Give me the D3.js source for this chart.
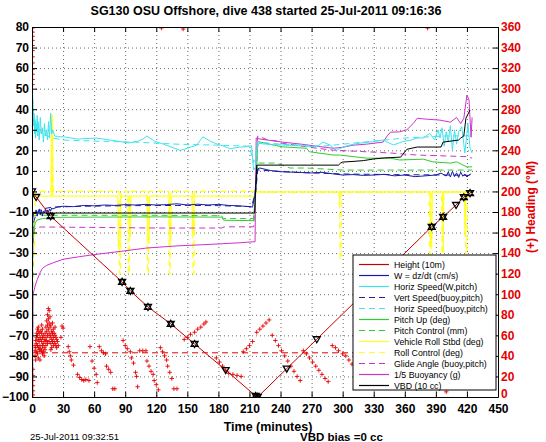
<!DOCTYPE html>
<html><head><meta charset="utf-8">
<script src="https://cdn.jsdelivr.net/npm/d3@7"></script>
<style>
body{margin:0;background:#fff;}
svg text{font-family:"Liberation Sans",Arial,Helvetica,sans-serif;}
</style></head>
<body><svg id="c" width="546" height="442"></svg>
<script>
// ---------------- data ----------------
const titleText = "SG130 OSU Offshore, dive 438 started 25-Jul-2011 09:16:36";
const xTicks = d3.range(0, 451, 30);
const yTicks = d3.range(-100, 81, 10);
const hTicks = d3.range(0, 361, 20);
const targetHeading = 43;

// Height (10m)
const heightT = [0, 1, 4, 18, 87, 95, 112, 134, 157, 187, 216, 218, 246, 275, 386, 397, 409.5, 417, 423, 425];
const heightV = [0, -0.8, -2.7, -12, -44, -48.4, -56.2, -64.4, -74.2, -86.9, -99.5, -100, -86.2, -71.9, -17.2, -12.4, -6.6, -2.8, -0.8, 0];
const markT = [0, 4, 18, 87, 95, 112, 134, 157, 187, 216, 218, 246, 275, 386, 397, 409.5, 417, 423];
const markV = [0, -2.7, -12, -44, -48.4, -56.2, -64.4, -74.2, -86.9, -99.5, -100, -86.2, -71.9, -17.2, -12.4, -6.6, -2.8, -0.8];
const markS = ["tri", "tri", "star", "star", "star", "star", "star", "star", "tri", "star", "star", "tri", "tri", "star", "star", "tri", "star", "star"];

// W = dz/dt (cm/s)
const wT = [0, 0.5, 1, 2, 3, 4, 5, 6, 7, 8, 9, 10, 11, 12, 13, 14, 15, 16, 17, 18, 19, 20, 25, 30, 40, 50, 60, 70, 80, 90, 100, 110, 120, 130, 140, 150, 160, 170, 180, 190, 200, 210, 213, 215, 217, 218, 220, 225, 230, 240, 250, 260, 270, 280, 290, 300, 310, 320, 330, 340, 350, 360, 370, 380, 390, 395, 400, 402, 404, 406, 408, 410, 412, 414, 416, 418, 420, 422, 424];
const wV = [0, -15, -12, -10, -11, -9, -12, -10, -8.5, -11.5, -9, -12, -9.5, -10.5, -8.5, -11, -9, -10, -8.5, -9.5, -8, -8.5, -7.5, -7.2, -7.4, -6.8, -7.0, -6.6, -6.8, -6.4, -6.6, -6.3, -6.6, -6.4, -6.0, -6.6, -6.2, -6.6, -6.3, -6.8, -7.0, -7.4, -7.6, -2, 8, 11, 11.4, 10.8, 10.2, 9.6, 9.4, 9.2, 9.0, 9.3, 8.6, 8.0, 8.2, 7.8, 8.0, 8.3, 7.6, 8.0, 7.2, 7.6, 8.0, 8.9, 7.5, 9.5, 7.0, 9.8, 7.2, 9.0, 6.8, 9.4, 7.4, 8.5, 7.0, 8.0, 8.5];

// Horiz Speed (W,pitch)
const hsT = [0, 0.5, 1, 1.5, 2, 2.5, 3, 3.5, 4, 4.5, 5, 5.5, 6, 7, 8, 9, 10, 11, 12, 13, 14, 15, 16, 17, 18, 19, 20, 22, 25, 30, 44, 62, 83, 93, 102, 107, 111, 118, 127, 135, 143, 150, 159, 165, 172, 179, 185, 191, 200, 208, 212, 214, 216, 217, 219, 230, 242, 260, 275, 281, 288, 294, 300, 307, 317, 329, 339, 349, 358, 366, 372, 378, 384, 389, 392, 394, 396, 398, 400, 402, 404, 406, 408, 410, 412, 415, 418, 421, 423, 425];
const hsV = [0, 50, 42, 32, 38, 28, 35, 26, 33, 29, 37, 27, 34, 25, 36, 28, 31, 24, 33, 27, 30, 25, 34, 26, 38, 28, 30, 27, 26.6, 26.6, 25.5, 26, 24.4, 23.6, 24.4, 25.4, 27, 24.5, 23, 21.5, 20, 21, 22.5, 26.6, 24.5, 23, 22, 20.8, 21.5, 21.8, 22.3, 10.4, 12, 20, 23.4, 22.8, 22.6, 22.2, 21.7, 24, 22.5, 20, 21.5, 22.6, 23.5, 24.2, 25, 22.6, 24.2, 25, 26, 26, 28.3, 25, 30, 26, 31, 22, 29, 24, 32, 20, 30, 23, 29, 31.5, 18.7, 33, 21, 18.7];

// Vert Speed (buoy,pitch)
const vsT = [0.5, 2, 5, 10, 20, 50, 100, 150, 180, 200, 212, 216, 218, 230, 260, 300, 350, 400, 424];
const vsV = [-20, -14, -10, -8.5, -7.6, -7.2, -6.9, -6.8, -6.9, -7.2, -7.4, 0, 10.5, 10, 9.2, 8.5, 8.2, 8.0, 7.8];

// Horiz Speed (buoy,pitch)
const hbT = [0.5, 2, 5, 10, 15, 20, 30, 60, 100, 140, 180, 210, 214, 216, 218, 240, 280, 320, 360, 400, 424];
const hbV = [45, 35, 30, 28, 27, 26, 25, 24.5, 24, 23, 22.5, 22, 14, 18, 24, 23, 22, 24, 26, 27, 27];

// Pitch Up (deg)
const puT = [0, 0.5, 1.5, 3, 5, 10, 20, 60, 120, 183, 185, 214, 216, 218, 219, 233, 242, 265, 268, 291, 297, 323, 346, 355, 378, 387, 404, 410, 420, 425];
const puV = [-5, -25, -20.3, -15.4, -13.9, -13.2, -12.6, -12.5, -12.4, -12.5, -14, -14.2, 0, 24, 24.2, 22.6, 21.7, 21, 19.3, 17.7, 17.7, 16.2, 16.2, 15.3, 15.7, 14.4, 13.8, 14.4, 11.9, 12];

// Pitch Control (mm)
const pcT = [0, 0.5, 1, 3, 10, 60, 120, 183, 185, 214, 216, 218, 236, 249, 265, 300, 346, 410, 425];
const pcV = [-100, -100, -12, -11.8, -11.6, -11.6, -11.6, -11.8, -13.2, -13.2, 0, 13.8, 13.8, 11.4, 11.4, 10.4, 10.4, 10.4, 10.4];

// Vehicle Roll Stbd (deg)
const rollT = [0, 0.5, 18.5, 19, 19.5, 20, 83, 83.5, 85, 85.5, 93.5, 94, 95, 95.5, 111.5, 112, 113, 113.5, 132.5, 133, 134, 134.5, 154.5, 155, 156, 156.5, 215, 217, 296.5, 297, 297.5, 384.5, 385, 386, 386.5, 396.5, 397, 397.5, 417.5, 418, 418.5, 425];
const rollV = [-2.3, -2.3, -2.3, 37, 37, -2.3, -2.3, -28, -28, -2.3, -2.3, -22, -22, -2.3, -2.3, -25, -25, -2.3, -2.3, -24, -24, -2.3, -2.3, -20, -20, -2.3, -2.3, -0.2, -0.2, -6, -0.2, -0.2, -27, -27, -0.2, -0.2, -30, -0.2, -0.2, -22, -0.2, -0.2];

// Roll Control (deg)
const rcT = [0, 0.5, 0.8, 2.5, 3, 18.5, 19, 20, 20.5, 84, 84.5, 85.5, 86, 92.5, 93, 94, 94.5, 111, 111.5, 112.5, 113, 132, 132.5, 133.5, 134, 155, 155.5, 156.5, 157, 215, 217, 297, 297.5, 298.5, 299, 383.5, 384, 385, 385.5, 395.5, 396, 397, 397.5, 418.5, 419, 420, 420.5, 425];
const rcV = [0, -45, -40, -25, 0, 0, 35, 35, 0, 0, -40, -40, 0, 0, -40, -40, 0, 0, -40, -40, 0, 0, -40, -40, 0, 0, -40, -40, 0, 0, -0.5, -0.5, -33, -33, -0.5, -0.5, -33, -33, -0.5, -0.5, -35, -35, -0.5, -0.5, -36, -36, -0.5, -0.5];

// Glide Angle (buoy,pitch)
const gaT = [0.5, 1, 2, 4, 10, 60, 120, 183, 186, 214, 216, 218, 228, 236, 242, 275, 291, 323, 346, 372, 404, 420, 425];
const gaV = [-35, -27, -18.8, -17.4, -17.3, -17.5, -17.8, -17.8, -17.2, -17.2, 0, 27, 25, 24.6, 23.4, 21, 20.1, 19.3, 18.7, 17.7, 17.2, 16.9, 16.2];

// 1/5 Buoyancy (g)
const buT = [0, 0.5, 1, 2, 3, 5, 7.7, 10, 14, 20, 30, 45, 59, 80, 111, 140, 170, 200, 213, 215.4, 216.5, 220, 230, 242, 260, 275, 291, 300, 310, 323, 339, 343, 346, 355, 362, 368, 372, 380, 394, 404, 410, 414, 417, 420, 422, 424, 425];
const buV = [-100, -100, -50, -48, -46, -43, -39.6, -37.5, -36, -34.8, -33, -31.8, -30.8, -29.5, -27.5, -26.5, -25.8, -25, -24.5, -24.5, 26, 25.5, 24.8, 24, 23, 22, 21, 21.5, 22.5, 23, 24, 27, 28.8, 29, 30, 33, 35.6, 35.2, 34.7, 33.7, 36, 33, 35.6, 46.9, 44.5, 26.4, 36];

// VBD (10 cc)
const vbT = [0, 215, 217, 296, 298, 300, 310, 320, 330, 340, 356, 358, 362, 372, 395, 397, 412, 414, 417, 419, 423];
const vbV = [-10.5, -10.5, 12.8, 12.8, 13.8, 14.3, 14.6, 15, 15.8, 16.3, 16.7, 18, 20.5, 21.6, 21.6, 24, 25, 26, 27, 35.6, 39.6];

// Heading (deg M, right axis)
const headT = [0.6,0.6,0.6,0.6,0.6,0.6,0.6,0.6,0.6,0.6,0.6,0.6, 0.9,0.9,0.9,0.9,0.9,0.9,
 2.9,2.9,2.9,3.5,3.5,3.5,4.5,4.5,4.5,4.5,5.3,5.3,5.3,5.3,6.1,6.1,6.1,6.1,6.1,7,7,7,7.7,7.7,7.7,7.7,8.5,8.5,8.5,9.3,9.3,9.3,9.3,10.1,10.1,10.1,10.1,10.9,10.9,10.9,11.7,11.7,11.7,12.6,12.6,12.6,13.4,13.4,13.4,14.2,14.2,14.2,15,15,15,15,15.8,15.8,15.8,16.6,16.6,16.6,16.6,17.4,17.4,17.4,18.2,18.2,18.2,18.2,19,19,19,19.8,19.8,19.8,20.6,20.6,20.6,21.4,21.4,22.2,22.2,22.2,23,23,23.8,23.8,24.6,25.4,
 28,29,30,35,36,37,38,40,44,46,48,50,52,55,56,58,60,62,63,65,67,69,71,72,74,76,78,80,88,90,92,95,96,98,100,101,102,104,107,110,111,113,115,117,118,120,122,124,126,128,130,131,133,135,137,140,147,150,153,157,160,163,166,168,178,181,184,187,190,194,198,202,204,207,210,213,217,220,223,
 125,146,382,
 226,229,232,235,238,241,244,247,250,253,256,259,262,265,268,271,274,277,280,283,286,290,293,296,300,303,306,309,312,315,400];
const headH = [359,355,351,347,342,337,331,325,319,314,309,304, 2,6,11,16,21,27,
 45,40,50,55,48,36,58,62,52,44,66,60,50,42,68,64,56,48,38,62,54,46,58,50,44,36,64,56,47,70,62,54,45,66,58,50,42,60,52,44,56,48,40,62,54,46,68,58,50,74,64,55,80,70,60,52,86,76,66,84,72,62,54,78,68,58,70,60,52,46,64,56,48,72,62,54,66,58,50,62,54,68,60,52,58,50,56,48,54,50,
 58,69,67,49,44,40,36,31,22,19,17,16,17,16,49,35,28,22,14,49,45,43,42,30,27,24,8,8,55,50,47,44,38,33,24,20,10,45,45,45,35,30,25,22,16,12,7,48,44,40,36,30,24,18,8,8,56,58,61,63,66,68,71,73,38,34,30,26,23,22,21,20,44,47,50,54,63,66,69,
 359,358,359,
 72,75,60,55,50,45,40,35,30,25,20,16,45,42,38,34,30,26,22,18,15,50,48,45,42,40,36,32,60,64,5];

// legend
const legendLabels = ["Height (10m)", "W = dz/dt (cm/s)", "Horiz Speed(W,pitch)", "Vert Speed(buoy,pitch)", "Horiz Speed(buoy,pitch)", "Pitch Up (deg)", "Pitch Control (mm)", "Vehicle Roll Stbd (deg)", "Roll Control (deg)", "Glide Angle (buoy,pitch)", "1/5 Buoyancy (g)", "VBD (10 cc)"];

// ---------------- drawing ----------------
const C = {red:"#c40000", hred:"#e60000", blue:"#1a1aa6", dblue:"#2020a0", cyan:"#3fe3ee", green:"#2fcc2f", yellow:"#ffff22", magenta:"#cc33cc", black:"#000"};
const styles = [
  {c:C.red, d:null}, {c:C.blue, d:null}, {c:C.cyan, d:null}, {c:C.dblue, d:"6,4"}, {c:C.cyan, d:"6,4"},
  {c:C.green, d:null}, {c:C.green, d:"6,4"}, {c:C.yellow, d:null}, {c:C.yellow, d:"6,4"},
  {c:C.magenta, d:"6,4"}, {c:C.magenta, d:null}, {c:C.black, d:null}];

const X0 = 32, X1 = 498, Y0 = 27, Y1 = 397;
const svg = d3.select("#c");
const x = d3.scaleLinear().domain([0, 450]).range([X0, X1]);
const yL = d3.scaleLinear().domain([-100, 80]).range([Y1, Y0]);
const yR = d3.scaleLinear().domain([0, 360]).range([Y1, Y0]);
const FONT = '"Liberation Sans",Arial,Helvetica,sans-serif';

svg.append("defs").append("clipPath").attr("id", "clip")
  .append("rect").attr("x", X0).attr("y", Y0).attr("width", X1 - X0).attr("height", Y1 - Y0);

// grid
const grid = svg.append("g").attr("stroke", "#444").attr("stroke-width", 0.8).attr("stroke-dasharray", "1,3");
grid.selectAll("line.gx").data(xTicks.slice(1, -1)).join("line")
  .attr("x1", d => x(d) + 0.5).attr("x2", d => x(d) + 0.5).attr("y1", Y0).attr("y2", Y1);
grid.selectAll("line.gy").data(yTicks.slice(1, -1)).join("line")
  .attr("y1", d => yL(d) + 0.5).attr("y2", d => yL(d) + 0.5).attr("x1", X0).attr("x2", X1);

const plot = svg.append("g").attr("clip-path", "url(#clip)");
const zip = (a, b) => a.map((t, i) => [t, b[i]]);
const lineL = d3.line().x(d => x(d[0])).y(d => yL(d[1]));
const lineR = d3.line().x(d => x(d[0])).y(d => yR(d[1]));

// heading target dashed line
plot.append("path").datum([[0, targetHeading], [425, targetHeading]]).attr("d", lineR)
  .attr("fill", "none").attr("stroke", C.hred).attr("stroke-width", 1).attr("stroke-dasharray", "6,4");
// heading points
const hp = zip(headT, headH);
plot.append("g").selectAll("path").data(hp).join("path")
  .attr("d", d => { const px = x(d[0]), py = yR(d[1]); return `M${px-2.2},${py}H${px+2.2}M${px},${py-2.2}V${py+2.2}`; })
  .attr("stroke", C.hred).attr("stroke-width", 0.9);

function drawSeries(T, V, st, w) {
  plot.append("path").datum(zip(T, V)).attr("d", lineL).attr("fill", "none")
    .attr("stroke", st.c).attr("stroke-width", w || 1).attr("stroke-dasharray", st.d);
}
drawSeries(rcT, rcV, styles[8], 1.2);
drawSeries(rollT, rollV, styles[7], 1.2);
drawSeries(buT, buV, styles[10]);
drawSeries(gaT, gaV, styles[9]);
drawSeries(pcT, pcV, styles[6]);
drawSeries(puT, puV, styles[5]);
drawSeries(hbT, hbV, styles[4]);
drawSeries(hsT, hsV, styles[2]);
drawSeries(vsT, vsV, styles[3]);
drawSeries(wT, wV, styles[1]);
drawSeries(vbT, vbV, styles[11]);
drawSeries(heightT, heightV, styles[0]);

// markers on height line
const mk = markT.map((t, i) => ({t, v: markV[i], s: markS[i]}));
plot.append("g").selectAll("path").data(mk).join("path")
  .attr("transform", d => `translate(${x(d.t)},${yL(d.v)})`)
  .attr("d", d => d.s === "tri" ? "M-3.5,-2.5L3.5,-2.5L0,3.5Z" : "M-3.5,-2.5L3.5,-2.5L0,3.5ZM-3.5,2.5L3.5,2.5L0,-3.5Z")
  .attr("fill", d => d.s === "tri" ? "none" : "#fff").attr("stroke", "#000").attr("stroke-width", 1.3);

// axes
const axFont = g => g.selectAll("text").attr("font-family", FONT).attr("font-weight", "bold").attr("font-size", 12);
const gL = svg.append("g").attr("transform", `translate(${X0},0)`)
  .call(d3.axisLeft(yL).tickValues(yTicks).tickSizeInner(-5).tickSizeOuter(0).tickPadding(3));
gL.call(axFont); gL.selectAll("text").attr("fill", "#000");
const gB = svg.append("g").attr("transform", `translate(0,${Y1})`)
  .call(d3.axisBottom(x).tickValues(xTicks).tickSizeInner(-5).tickSizeOuter(0).tickPadding(7));
gB.call(axFont);
const gT = svg.append("g").attr("transform", `translate(0,${Y0})`)
  .call(d3.axisTop(x).tickValues(xTicks).tickSizeInner(-5).tickSizeOuter(0).tickFormat(""));
const gR = svg.append("g").attr("transform", `translate(${X1},0)`)
  .call(d3.axisRight(yR).tickValues(hTicks).tickSizeInner(-5).tickSizeOuter(0).tickPadding(3));
gR.call(axFont); gR.selectAll("text").attr("fill", C.hred);
// lowest heading label sits just above the time labels, as in the original
gR.selectAll(".tick text").filter(d => d === 0).attr("dy", "0.05em");
svg.selectAll(".domain").attr("stroke", "#000");
svg.selectAll(".tick line").attr("stroke", "#000");

// legend
const LX = 353, LY = 255, LW = 143, LH = 135;
const lg = svg.append("g");
lg.append("rect").attr("x", LX).attr("y", LY).attr("width", LW).attr("height", LH)
  .attr("fill", "#fff").attr("stroke", "#000").attr("stroke-width", 1);
legendLabels.forEach((lab, i) => {
  const yy = LY + 9.5 + i * 11;
  lg.append("line").attr("x1", LX + 6).attr("x2", LX + 36).attr("y1", yy).attr("y2", yy)
    .attr("stroke", styles[i].c).attr("stroke-width", 1.2).attr("stroke-dasharray", styles[i].d);
  lg.append("text").attr("x", LX + 41).attr("y", yy + 3).attr("font-size", 8.8)
    .attr("font-family", FONT).text(lab);
});

// texts
svg.append("text").attr("x", 266).attr("y", 15).attr("text-anchor", "middle")
  .attr("font-weight", "bold").attr("font-size", 12.5).text(titleText);
svg.append("text").attr("x", 268).attr("y", 431).attr("text-anchor", "middle")
  .attr("font-weight", "bold").attr("font-size", 12.5).text("Time (minutes)");
svg.append("text").attr("x", 30).attr("y", 440).attr("font-size", 9.5).text("25-Jul-2011 09:32:51");
svg.append("text").attr("x", 300).attr("y", 441).attr("font-weight", "bold").attr("font-size", 11.5).text("VBD bias =0 cc");
svg.append("text").attr("transform", "translate(535,207) rotate(-90)").attr("text-anchor", "middle")
  .attr("font-weight", "bold").attr("font-size", 12).attr("fill", C.hred).text("(+) Heading (°M)");
</script></body></html>
